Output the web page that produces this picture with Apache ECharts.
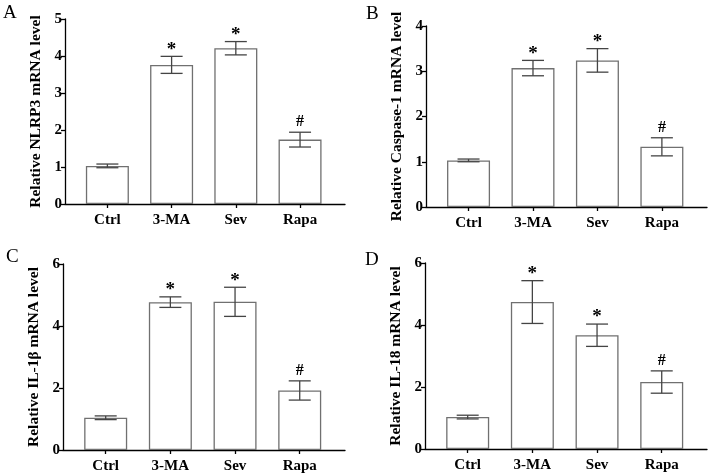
<!DOCTYPE html>
<html>
<head>
<meta charset="utf-8">
<script src="https://cdn.jsdelivr.net/npm/echarts@6/dist/echarts.min.js"></script>
<style>
html,body{margin:0;padding:0;background:#fff;}
#chart{width:708px;height:476px;}
</style>
</head>
<body>
<div id="chart"></div>
<script>
const categories = ['Ctrl', '3-MA', 'Sev', 'Rapa'];
const marks = ['', '*', '*', '#'];

const nlrp3Mean = [1.03, 3.76, 4.21, 1.74];
const nlrp3Err  = [0.05, 0.23, 0.18, 0.20];

const casp1Mean = [1.03, 3.07, 3.24, 1.33];
const casp1Err  = [0.03, 0.17, 0.26, 0.20];

const il1bMean = [1.04, 4.77, 4.78, 1.92];
const il1bErr  = [0.06, 0.17, 0.47, 0.31];

const il18Mean = [1.03, 4.74, 3.67, 2.16];
const il18Err  = [0.06, 0.69, 0.36, 0.36];

const panelLetters = ['A', 'B', 'C', 'D'];
const yNames = ['Relative NLRP3 mRNA level', 'Relative Caspase-1 mRNA level', 'Relative IL-1\u03b2 mRNA level', 'Relative IL-18 mRNA level'];
const yMax = [5, 4, 6, 6];
const yInterval = [1, 1, 2, 2];

const panels = [
  {mean: nlrp3Mean, err: nlrp3Err},
  {mean: casp1Mean, err: casp1Err},
  {mean: il1bMean, err: il1bErr},
  {mean: il18Mean, err: il18Err}
];

const FONT = '"Liberation Serif", "Times New Roman", serif';
const grids = [
  {left: 65, top: 19, width: 280, height: 185},
  {left: 426, top: 26, width: 281, height: 181},
  {left: 63, top: 264, width: 282, height: 186},
  {left: 425, top: 263, width: 282, height: 186}
];
const letterPos = [[3, 4], [366, 5], [6, 248], [365, 251]];

const xAxes = [], yAxes = [], series = [], graphics = [];
panels.forEach((p, i) => {
  xAxes.push({
    type: 'value', gridIndex: i, min: -0.66, max: 3.7,
    splitLine: {show: false},
    axisLine: {show: true, onZero: false, lineStyle: {color: '#000', width: 1.3}},
    axisTick: {show: true, customValues: [0, 1, 2, 3], length: 4, lineStyle: {color: '#000', width: 1.3}},
    axisLabel: {
      customValues: [0, 1, 2, 3],
      formatter: v => categories[Math.round(v)] || '',
      color: '#000', fontFamily: FONT, fontWeight: 'bold', fontSize: 15, margin: 9
    }
  });
  yAxes.push({
    type: 'value', gridIndex: i, min: 0, max: yMax[i], interval: yInterval[i],
    name: yNames[i], nameLocation: 'middle', nameGap: 21,
    nameTextStyle: {color: '#000', fontFamily: FONT, fontWeight: 'bold', fontSize: 15.5},
    splitLine: {show: false},
    axisLine: {show: true, onZero: false, lineStyle: {color: '#000', width: 1.3}},
    axisTick: {show: true, length: 4, lineStyle: {color: '#000', width: 1.3}},
    axisLabel: {color: '#000', fontFamily: FONT, fontWeight: 'bold', fontSize: 15, margin: 3}
  });
  series.push({
    type: 'bar', xAxisIndex: i, yAxisIndex: i, barWidth: 43,
    itemStyle: {color: '#fff', borderColor: '#707070', borderWidth: 1.3},
    data: p.mean.map((m, k) => [k, m]),
    silent: true
  });
  series.push({
    type: 'custom', xAxisIndex: i, yAxisIndex: i,
    data: p.mean.map((m, k) => [k, m, p.err[k]]),
    renderItem: (params, api) => {
      const x = api.value(0), m = api.value(1), e = api.value(2);
      const top = api.coord([x, m + e]);
      const bot = api.coord([x, m - e]);
      const half = 11;
      const st = {stroke: '#444', lineWidth: 1.3};
      const children = [
        {type: 'line', shape: {x1: top[0], y1: top[1], x2: bot[0], y2: bot[1]}, style: st},
        {type: 'line', shape: {x1: top[0] - half, y1: top[1], x2: top[0] + half, y2: top[1]}, style: st},
        {type: 'line', shape: {x1: bot[0] - half, y1: bot[1], x2: bot[0] + half, y2: bot[1]}, style: st}
      ];
      const mk = marks[params.dataIndex];
      if (mk) {
        const isStar = mk === '*';
        children.push({
          type: 'text', x: top[0], y: isStar ? top[1] + 3 : top[1] - 2,
          style: {text: mk, align: 'center', verticalAlign: 'bottom', fill: '#000',
                  font: (isStar ? 'bold 19px ' : 'bold 16px ') + FONT}
        });
      }
      return {type: 'group', children};
    },
    silent: true, z: 5
  });
  graphics.push({
    type: 'text', left: letterPos[i][0], top: letterPos[i][1],
    style: {text: panelLetters[i], fill: '#000', font: '19px ' + FONT}
  });
});

const chart = echarts.init(document.getElementById('chart'), null, {renderer: 'canvas'});
chart.setOption({
  animation: false,
  backgroundColor: '#fff',
  grid: grids,
  xAxis: xAxes,
  yAxis: yAxes,
  series: series,
  graphic: graphics
});
</script>
</body>
</html>
